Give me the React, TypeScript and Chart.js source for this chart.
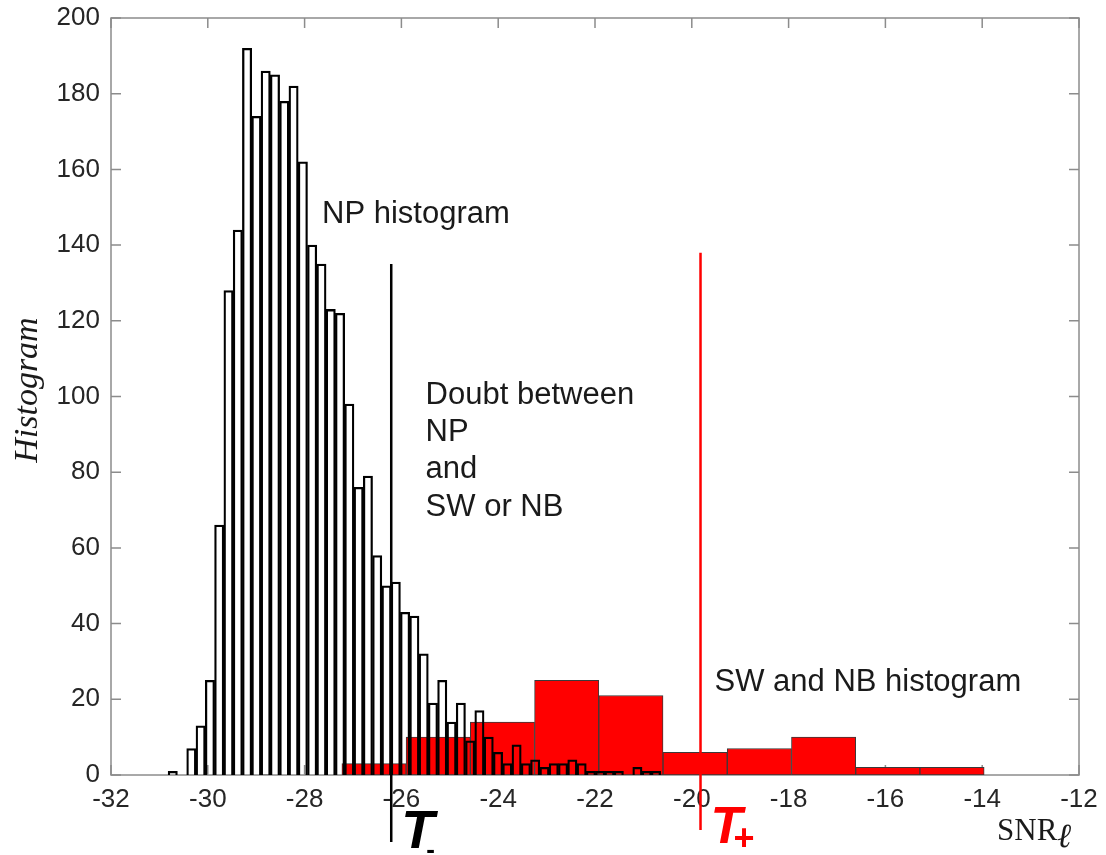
import React, { useEffect, useRef } from 'react';
import { Chart, registerables } from 'chart.js';

Chart.register(...registerables);

// NP histogram: bin centres (SNR, dB) and counts
const npBinCenters = [
  -30.724, -30.532, -30.34, -30.148, -29.956, -29.764, -29.572, -29.38, -29.188, -28.996,
  -28.804, -28.612, -28.42, -28.228, -28.036, -27.844, -27.652, -27.46, -27.268, -27.076,
  -26.884, -26.692, -26.5, -26.308, -26.116, -25.924, -25.732, -25.54, -25.348, -25.156,
  -24.964, -24.772, -24.58, -24.388, -24.196, -24.004, -23.812, -23.62, -23.428, -23.236,
  -23.044, -22.852, -22.66, -22.468, -22.276, -22.084, -21.892, -21.7, -21.508, -21.316,
  -21.124, -20.932, -20.74,
];
const npCounts = [
  1, 0, 7, 13, 25, 66, 128, 144, 192, 174,
  186, 185, 178, 182, 162, 140, 135, 123, 122, 98,
  76, 79, 58, 50, 51, 43, 42, 32, 19, 25,
  14, 19, 9, 17, 10, 6, 3, 8, 3, 4,
  2, 3, 3, 4, 3, 1, 1, 1, 1, 0,
  2, 1, 1,
];

// SW and NB histogram
const swnbBinCenters = [-26.566, -25.239, -23.912, -22.585, -21.258, -19.931, -18.604, -17.277, -15.95, -14.623];
const swnbCounts = [3, 10, 14, 25, 21, 6, 7, 10, 2, 2];

// axes
const xMin = -32;
const xMax = -12;
const xTicks = [-32, -30, -28, -26, -24, -22, -20, -18, -16, -14, -12];
const yMin = 0;
const yMax = 200;
const yTicks = [0, 20, 40, 60, 80, 100, 120, 140, 160, 180, 200];

// thresholds (x) and vertical extents of their markers (y)
const tMinusX = -26.21;
const tMinusY = [135, -17.7];
const tPlusX = -19.82;
const tPlusY = [138, -14.5];

// text annotations (data coordinates of left/middle anchor)
const npLabel = { text: 'NP histogram', x: -27.64, y: 148.1 };
const doubtLabels = [
  { text: 'Doubt between', x: -25.5, y: 100.4 },
  { text: 'NP', x: -25.5, y: 90.6 },
  { text: 'and', x: -25.5, y: 80.8 },
  { text: 'SW or NB', x: -25.5, y: 70.8 },
];
const swnbLabel = { text: 'SW and NB histogram', x: -19.53, y: 24.4 };

const SANS = '"Liberation Sans", Arial, Helvetica, sans-serif';
const SERIF = '"Liberation Serif", "Times New Roman", "DejaVu Serif", serif';

const overlayPlugin = {
  id: 'overlay',
  beforeDatasetsDraw(chart: any) {
    const { ctx, chartArea: a } = chart;
    const xs = chart.scales.x;
    const ys = chart.scales.y;
    ctx.save();
    ctx.strokeStyle = '#8c8c8c';
    ctx.lineWidth = 1.5;
    ctx.strokeRect(a.left, a.top, a.right - a.left, a.bottom - a.top);
    const tl = 10;
    ctx.beginPath();
    xTicks.forEach((v) => {
      const px = xs.getPixelForValue(v);
      ctx.moveTo(px, a.bottom);
      ctx.lineTo(px, a.bottom - tl);
      ctx.moveTo(px, a.top);
      ctx.lineTo(px, a.top + tl);
    });
    yTicks.forEach((v) => {
      const py = ys.getPixelForValue(v);
      ctx.moveTo(a.left, py);
      ctx.lineTo(a.left + tl, py);
      ctx.moveTo(a.right, py);
      ctx.lineTo(a.right - tl, py);
    });
    ctx.stroke();
    ctx.restore();
  },
  afterDraw(chart: any) {
    const { ctx, chartArea: a } = chart;
    const xs = chart.scales.x;
    const ys = chart.scales.y;
    ctx.save();
    ctx.fillStyle = '#1a1a1a';
    ctx.textBaseline = 'middle';
    ctx.textAlign = 'left';
    ctx.font = `31px ${SANS}`;
    [npLabel, ...doubtLabels, swnbLabel].forEach((l) => {
      ctx.fillText(l.text, xs.getPixelForValue(l.x), ys.getPixelForValue(l.y));
    });

    // threshold labels
    ctx.textBaseline = 'alphabetic';
    const tmx = xs.getPixelForValue(tMinusX);
    ctx.fillStyle = '#000000';
    ctx.font = `italic bold 54px ${SANS}`;
    ctx.fillText('T', tmx + 10, a.bottom + 73);
    ctx.font = `bold 26px ${SANS}`;
    ctx.fillText('-', tmx + 35, a.bottom + 83);

    const tpx = xs.getPixelForValue(tPlusX);
    ctx.fillStyle = '#ff0000';
    ctx.font = `italic bold 52px ${SANS}`;
    ctx.fillText('T', tpx + 10, a.bottom + 68);
    ctx.font = `bold 36px ${SANS}`;
    ctx.fillText('+', tpx + 33, a.bottom + 75);

    // y axis title
    ctx.fillStyle = '#1a1a1a';
    ctx.save();
    ctx.translate(28, ys.getPixelForValue(101.7));
    ctx.rotate(-Math.PI / 2);
    ctx.textAlign = 'center';
    ctx.textBaseline = 'middle';
    ctx.font = `italic 34px ${SERIF}`;
    ctx.fillText('Histogram', 0, 0);
    ctx.restore();

    // x axis title SNR_l
    ctx.textAlign = 'left';
    ctx.textBaseline = 'alphabetic';
    ctx.font = `31px ${SERIF}`;
    ctx.fillText('SNR', a.right - 82, a.bottom + 65);
    ctx.font = `italic 34px ${SERIF}`;
    ctx.fillText('\u2113', a.right - 22, a.bottom + 72);
    ctx.restore();
  },
};

export default function App() {
  const ref = useRef<HTMLCanvasElement | null>(null);

  useEffect(() => {
    document.body.style.margin = '0';
    if (!ref.current) return;
    const chart = new Chart(ref.current, {
      type: 'bar',
      data: {
        datasets: [
          {
            type: 'line',
            data: tMinusY.map((y) => ({ x: tMinusX, y })),
            borderColor: '#000000',
            borderWidth: 2.5,
            pointRadius: 0,
            clip: false as any,
            xAxisID: 'x',
            yAxisID: 'y',
            order: 0,
          } as any,
          {
            type: 'line',
            data: tPlusY.map((y) => ({ x: tPlusX, y })),
            borderColor: '#ff0000',
            borderWidth: 2.5,
            pointRadius: 0,
            clip: false as any,
            xAxisID: 'x',
            yAxisID: 'y',
            order: 0,
          } as any,
          {
            type: 'bar',
            data: npBinCenters.map((x, i) => ({ x, y: npCounts[i] })),
            backgroundColor: 'rgba(255,255,255,0)',
            borderColor: '#000000',
            borderWidth: 1.6,
            barPercentage: 1,
            categoryPercentage: 1,
            grouped: false,
            xAxisID: 'x',
            yAxisID: 'y',
            order: 1,
          } as any,
          {
            type: 'bar',
            data: swnbBinCenters.map((x, i) => ({ x, y: swnbCounts[i] })),
            backgroundColor: '#ff0000',
            borderColor: '#3a3a3a',
            borderWidth: 1,
            borderSkipped: false,
            barPercentage: 1,
            categoryPercentage: 1,
            grouped: false,
            xAxisID: 'x2',
            yAxisID: 'y',
            order: 2,
          } as any,
        ],
      },
      options: {
        responsive: false,
        animation: false,
        layout: { padding: { top: 18, right: 27, left: 0, bottom: 0 } },
        plugins: { legend: { display: false }, tooltip: { enabled: false } },
        scales: {
          x: {
            type: 'linear',
            min: xMin,
            max: xMax,
            offset: false,
            grid: { display: false, drawTicks: false, offset: false },
            border: { display: false },
            ticks: {
              stepSize: 2,
              padding: 9,
              color: '#262626',
              font: { family: SANS, size: 26 },
              maxRotation: 0,
              autoSkip: false,
            },
            afterFit: (s: any) => {
              s.height = 80;
              s.paddingLeft = 0;
              s.paddingRight = 0;
            },
          },
          x2: {
            type: 'linear',
            min: xMin,
            max: xMax,
            offset: false,
            display: false,
            grid: { offset: false },
          },
          y: {
            type: 'linear',
            min: yMin,
            max: yMax,
            grid: { display: false, drawTicks: false },
            border: { display: false },
            ticks: {
              stepSize: 20,
              padding: 11,
              color: '#262626',
              font: { family: SANS, size: 26 },
            },
            afterFit: (s: any) => {
              s.width = 111;
              s.paddingTop = 0;
              s.paddingBottom = 0;
            },
          },
        },
      } as any,
      plugins: [overlayPlugin],
    });
    return () => chart.destroy();
  }, []);

  return (
    <div style={{ position: 'absolute', left: 0, top: 0, width: 1106, height: 855, background: '#fff' }}>
      <canvas ref={ref} width={1106} height={855} />
    </div>
  );
}
